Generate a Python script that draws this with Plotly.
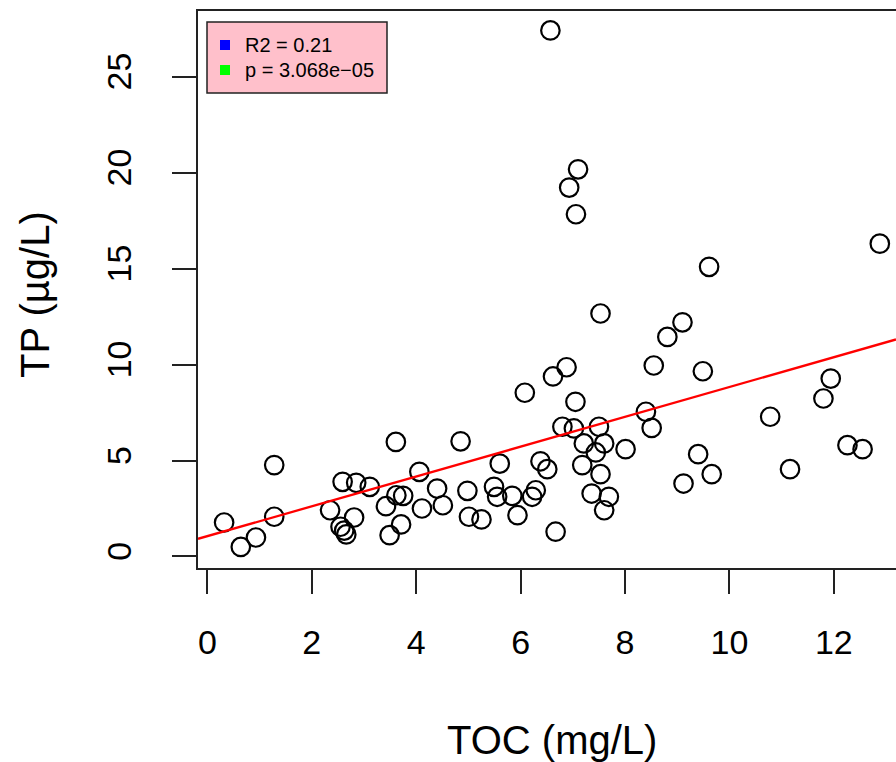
import plotly.graph_objects as go

# ---- data ----
toc = [0.32, 0.64, 0.93, 1.28, 1.28, 2.35, 2.59, 2.85, 3.11, 2.81,
       2.55, 2.62, 2.66, 3.61, 3.42, 3.49, 3.62, 3.75, 3.71, 4.06,
       4.11, 4.40, 4.51, 4.85, 4.98, 5.01, 5.25, 5.49, 5.55, 5.60,
       5.84, 5.94, 6.08, 6.62, 6.88, 6.29, 6.22, 6.38, 6.51, 6.67,
       7.05, 6.80, 7.02, 7.21, 7.18, 7.50, 7.60, 7.44, 7.53, 7.36,
       7.69, 7.60, 8.01, 8.40, 8.51, 12.88, 9.61, 9.10, 8.81, 8.55,
       9.49, 10.78, 11.94, 11.80, 9.40, 9.66, 9.12, 11.16, 12.26, 12.55,
       6.57, 7.10, 6.93, 7.06, 7.53]
tp = [1.77, 0.50, 0.99, 4.76, 2.07, 2.41, 3.89, 3.84, 3.63, 2.03,
      1.55, 1.35, 1.15, 5.97, 2.62, 1.11, 3.19, 3.16, 1.67, 4.41,
      2.50, 3.54, 2.67, 6.00, 3.42, 2.07, 1.93, 3.63, 3.11, 4.84,
      3.16, 2.15, 8.53, 9.38, 9.86, 3.45, 3.11, 4.96, 4.55, 1.29,
      8.06, 6.76, 6.67, 5.89, 4.76, 6.76, 5.89, 5.42, 4.29, 3.28,
      3.11, 2.41, 5.59, 7.54, 6.70, 16.30, 15.09, 12.20, 11.44, 9.95,
      9.65, 7.28, 9.27, 8.23, 5.33, 4.29, 3.80, 4.55, 5.80, 5.59,
      27.41, 20.17, 19.22, 17.83, 12.66]

fit_intercept = 1.06
fit_slope = 0.777
r2_value = "0.21"
p_value = "3.068e\u221205"

x_ticks = [0, 2, 4, 6, 8, 10, 12]
y_ticks = [0, 5, 10, 15, 20, 25]
x_title = "TOC (mg/L)"
y_title = "TP (\u00b5g/L)"

# ---- layout constants ----
W, H = 896, 762
ML, MR, MT, MB = 198, 0, 11, 194
x_range = [-0.18, 13.19]
y_range = [-0.60, 28.42]
FONT = "Liberation Sans, Arial, sans-serif"

fig = go.Figure()

fig.add_trace(go.Scatter(
    x=toc, y=tp, mode="markers",
    marker=dict(symbol="circle-open", size=18.5, color="black",
                line=dict(color="black", width=2.2)),
    showlegend=False, hoverinfo="x+y"))

line_x = [x_range[0], x_range[1]]
line_y = [fit_intercept + fit_slope * v for v in line_x]
fig.add_trace(go.Scatter(
    x=line_x, y=line_y, mode="lines",
    line=dict(color="red", width=2.3), showlegend=False, hoverinfo="skip"))

fig.update_layout(
    width=W, height=H,
    margin=dict(l=ML, r=MR, t=MT, b=MB, pad=0, autoexpand=False),
    paper_bgcolor="white", plot_bgcolor="white",
    font=dict(family=FONT, color="black"),
    showlegend=False,
)
fig.update_xaxes(
    range=x_range, tickvals=x_ticks, ticktext=[str(v) for v in x_ticks],
    showgrid=False, zeroline=False, showline=True, mirror=True,
    linecolor="#222", linewidth=2, ticks="outside", ticklen=24,
    tickwidth=2, tickcolor="#222", tickfont=dict(size=34, family=FONT),
    ticklabelstandoff=19, automargin=False,
)
fig.update_yaxes(
    range=y_range, tickvals=y_ticks, ticktext=[str(v) for v in y_ticks],
    showgrid=False, zeroline=False, showline=True, mirror=False,
    linecolor="#222", linewidth=2, ticks="outside", ticklen=24,
    tickwidth=2, tickcolor="#222", tickfont=dict(size=34, family=FONT),
    tickangle=-90, ticklabelstandoff=27, automargin=False,
)

# axis titles
fig.add_annotation(text=x_title, xref="paper", yref="paper",
                   x=(552 - ML) / (W - ML - MR), y=-(740 - (H - MB)) / (H - MT - MB),
                   showarrow=False, font=dict(size=40, family=FONT),
                   xanchor="center", yanchor="middle")
fig.add_annotation(text=y_title, xref="paper", yref="paper",
                   x=-(ML - 35) / (W - ML - MR), y=(H - MB - 295) / (H - MT - MB),
                   showarrow=False, font=dict(size=40, family=FONT), textangle=-90,
                   xanchor="center", yanchor="middle")

# legend box (R-style)
def px_x(p):
    return (p - ML) / (W - ML - MR)

def px_y(p):
    return (H - MB - p) / (H - MT - MB)

fig.add_shape(type="rect", xref="paper", yref="paper",
              x0=px_x(207), x1=px_x(387), y0=px_y(22), y1=px_y(93),
              fillcolor="#FFC0CB", line=dict(color="#222", width=1.5))
legend_items = [("R2 = " + r2_value, "blue", 45), ("p = " + p_value, "#00FF00", 70)]
for label, col, yc in legend_items:
    fig.add_shape(type="rect", xref="paper", yref="paper",
                  x0=px_x(220), x1=px_x(230), y0=px_y(yc - 5), y1=px_y(yc + 5),
                  fillcolor=col, line=dict(width=0))
    fig.add_annotation(text=label, xref="paper", yref="paper",
                       x=px_x(243), y=px_y(yc), showarrow=False,
                       xanchor="left", yanchor="middle",
                       font=dict(size=20, family=FONT, color="black"))

fig.write_html("out.html")
